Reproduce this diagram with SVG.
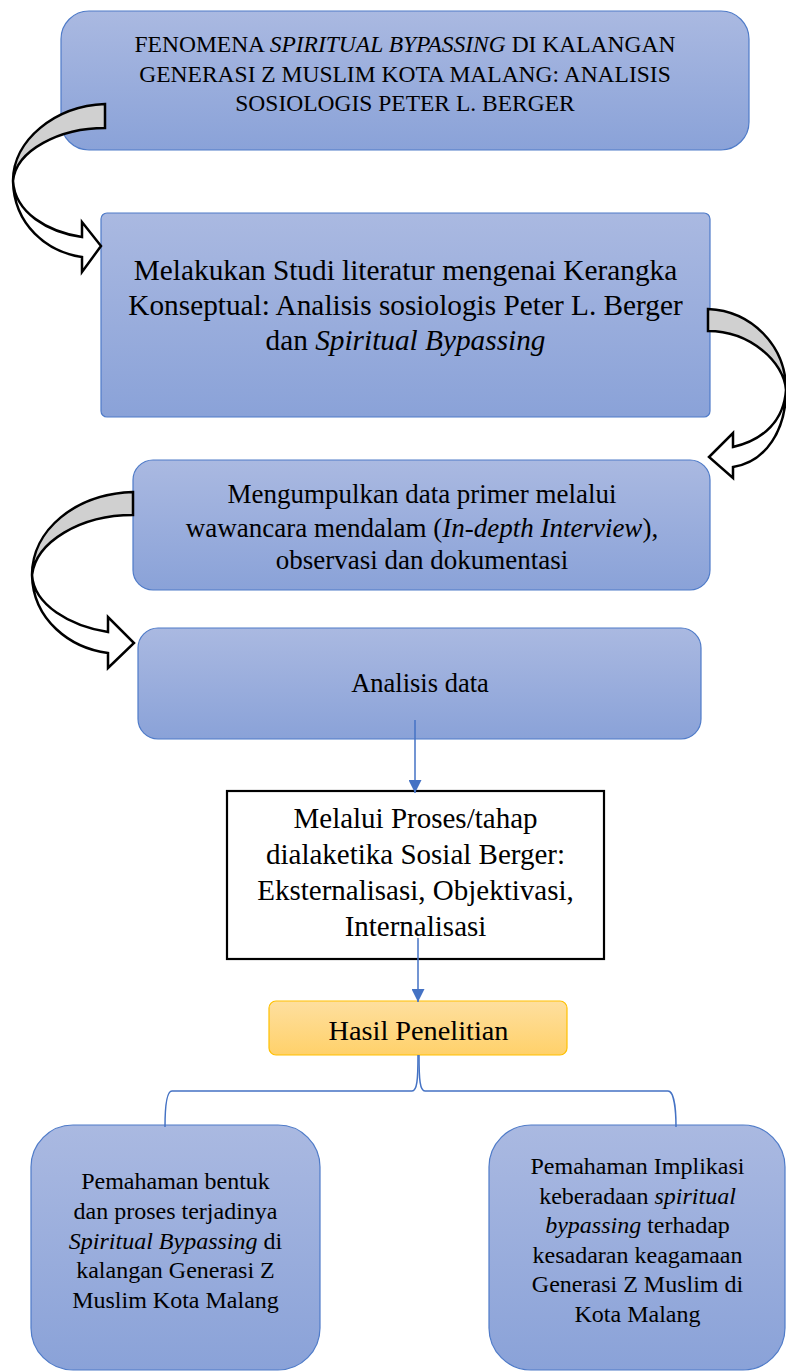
<svg xmlns="http://www.w3.org/2000/svg" width="786" height="1371" viewBox="0 0 786 1371">
<defs>
<linearGradient id="blue" x1="0" y1="0" x2="0" y2="1">
<stop offset="0" stop-color="#aab9e1"/>
<stop offset="1" stop-color="#8aa2d8"/>
</linearGradient>
<linearGradient id="gold" x1="0" y1="0" x2="0" y2="1">
<stop offset="0" stop-color="#fedf9f"/>
<stop offset="1" stop-color="#ffd16a"/>
</linearGradient>
<marker id="ah" viewBox="0 0 10 10" refX="10" refY="5" markerWidth="13" markerHeight="13" markerUnits="userSpaceOnUse" orient="auto">
<path d="M0,0 L10,5 L0,10 Z" fill="#4472c4"/>
</marker>
<style>
.box{fill:url(#blue);stroke:#4f7bc8;stroke-width:1.2}
.t{font-family:"Liberation Serif","Times New Roman",serif;fill:#000;text-anchor:middle}
.band{fill:#d0d0d0;stroke:#000;stroke-width:2.5;stroke-linejoin:miter}
.head{fill:#fff;stroke:#000;stroke-width:2.5;stroke-linejoin:miter}
.con{fill:none;stroke:#4472c4;stroke-width:1.5}
</style>
</defs>
<rect width="786" height="1371" fill="#fff"/>

<g id="n1">
<rect class="box" x="61" y="11" width="688" height="139" rx="28"/>
<text class="t" font-size="23.5"><tspan x="405" y="52">FENOMENA <tspan font-style="italic">SPIRITUAL BYPASSING</tspan> DI KALANGAN</tspan><tspan x="405" y="82">GENERASI Z MUSLIM KOTA MALANG: ANALISIS</tspan><tspan x="405" y="111">SOSIOLOGIS PETER L. BERGER</tspan></text>
</g>

<g id="n2">
<rect class="box" x="101" y="213" width="609" height="204" rx="6"/>
<text class="t" font-size="29.3"><tspan x="405.5" y="280">Melakukan Studi literatur mengenai Kerangka</tspan><tspan x="405.5" y="315">Konseptual: Analisis sosiologis Peter L. Berger</tspan><tspan x="405.5" y="350">dan <tspan font-style="italic">Spiritual Bypassing</tspan></tspan></text>
</g>

<g id="n3">
<rect class="box" x="133" y="460" width="577" height="130" rx="20"/>
<text class="t" font-size="27"><tspan x="422" y="503">Mengumpulkan data primer melalui</tspan><tspan x="422" y="537">wawancara mendalam (<tspan font-style="italic">In-depth Interview</tspan>),</tspan><tspan x="422" y="569">observasi dan dokumentasi</tspan></text>
</g>

<g id="n4">
<rect class="box" x="138" y="628" width="563" height="111" rx="20"/>
<text class="t" font-size="26.5" x="420" y="692">Analisis data</text>
</g>

<g id="n5">
<rect x="227" y="791" width="377" height="168" fill="#fff" stroke="#000" stroke-width="2.2"/>
<text class="t" font-size="29"><tspan x="415.5" y="828">Melalui Proses/tahap</tspan><tspan x="415.5" y="864">dialaketika Sosial Berger:</tspan><tspan x="415.5" y="900">Eksternalisasi, Objektivasi,</tspan><tspan x="415.5" y="936">Internalisasi</tspan></text>
</g>

<g id="n6">
<rect x="269" y="1001" width="298" height="54" rx="7" fill="url(#gold)" stroke="#ffc000" stroke-width="1.2"/>
<text class="t" font-size="28.3" x="418.5" y="1040">Hasil Penelitian</text>
</g>

<g id="n7">
<rect class="box" x="31" y="1125" width="289" height="245" rx="42"/>
<text class="t" font-size="24"><tspan x="175.5" y="1189">Pemahaman bentuk</tspan><tspan x="175.5" y="1219">dan proses terjadinya</tspan><tspan x="175.5" y="1249"><tspan font-style="italic">Spiritual Bypassing</tspan> di</tspan><tspan x="175.5" y="1278">kalangan Generasi Z</tspan><tspan x="175.5" y="1308">Muslim Kota Malang</tspan></text>
</g>

<g id="n8">
<rect class="box" x="489" y="1125" width="296" height="245" rx="42"/>
<text class="t" font-size="24"><tspan x="637.5" y="1174">Pemahaman Implikasi</tspan><tspan x="637.5" y="1204">keberadaan <tspan font-style="italic">spiritual</tspan></tspan><tspan x="637.5" y="1233"><tspan font-style="italic">bypassing</tspan> terhadap</tspan><tspan x="637.5" y="1263">kesadaran keagamaan</tspan><tspan x="637.5" y="1292">Generasi Z Muslim di</tspan><tspan x="637.5" y="1322">Kota Malang</tspan></text>
</g>

<g id="connectors">
<g id="curved1">
<path class="band" d="M105,104 C55,106 13,140 13,181 C16,150 60,128 105,128 Z"/>
<path class="head" d="M13,181 C14,225 47,252 82,257 L82,272 L101,246 L82,222 L82,237 C48,232 15,213 13,181 Z"/>
</g>
<g id="curved2">
<path class="band" d="M708,309 C752,311 786,346 786,390 C784,362 750,331 708,331 Z"/>
<path class="head" d="M786,390 C786,430 766,462 733,467 L733,478 L709,457 L733,433 L733,447 C764,440 784,420 786,390 Z"/>
</g>
<g id="curved3">
<path class="band" d="M133,492 C75,494 32,530 32,575 C36,542 80,515 133,515 Z"/>
<path class="head" d="M32,575 C33,620 70,648 108,653 L108,668 L134,643 L108,617 L108,632 C70,626 34,605 32,575 Z"/>
</g>
<path class="con" d="M415,720 L415,793" marker-end="url(#ah)"/>
<path class="con" d="M418,938 L418,1002" marker-end="url(#ah)"/>
<path class="con" d="M418,1055 C418,1080 417,1091 412,1091 L172,1091 C166,1091 165,1110 165,1127"/>
<path class="con" d="M419,1055 C419,1080 420,1091 425,1091 L668,1091 C674,1091 676,1110 676,1127"/>
</g>
</svg>
